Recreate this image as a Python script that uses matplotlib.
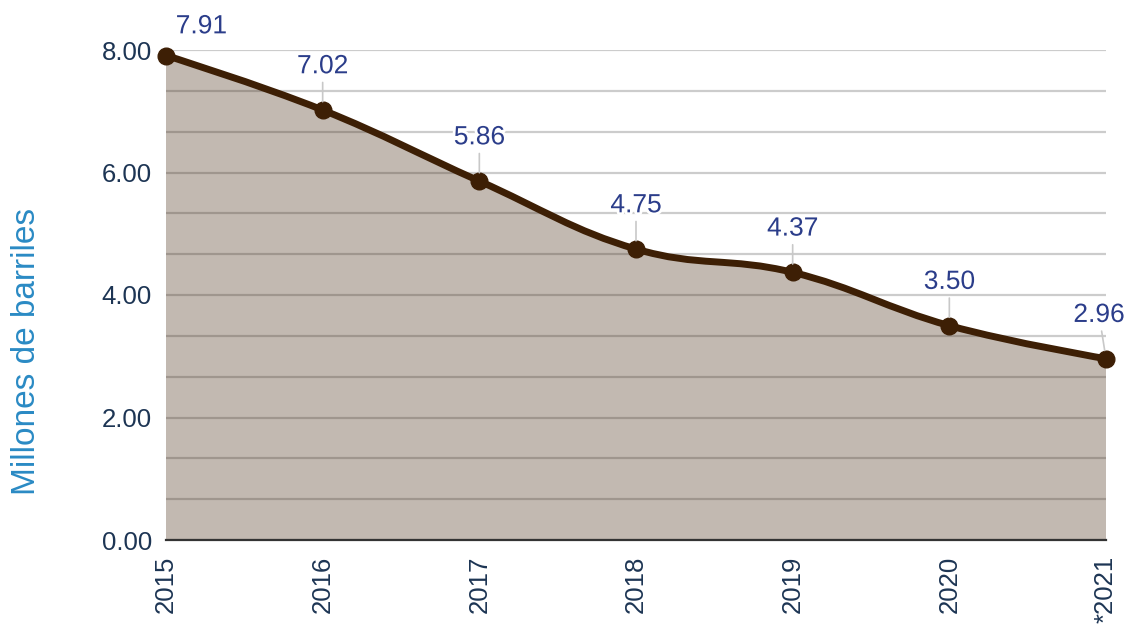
import matplotlib
matplotlib.use("Agg")
import matplotlib.pyplot as plt
import matplotlib.patheffects as pe
from matplotlib.path import Path
from matplotlib.patches import PathPatch
import numpy as np

years = ["2015", "2016", "2017", "2018", "2019", "2020", "*2021"]
values = [7.91, 7.02, 5.86, 4.75, 4.37, 3.50, 2.96]
y_ticks = [0, 2, 4, 6, 8]
y_tick_labels = ["0.00", "2.00", "4.00", "6.00", "8.00"]
y_label = "Millones de barriles"

LINE = "#3d1f05"
LABEL_C = "#2b3d8a"
TICK_C = "#1d3554"

fig = plt.figure(figsize=(11.29, 6.27), dpi=100)
ax = fig.add_axes([166/1129, 1-540/627, (1106-166)/1129, (540-50)/627])

xs = np.arange(len(values), dtype=float)
ys = np.array(values, dtype=float)


def spline_path(xs, ys):
    s = 1.5
    d = s + 1
    n = len(xs)
    lc = [None]*n
    rc = [None]*n
    for i in range(1, n-1):
        px, py = xs[i], ys[i]
        lx, ly = xs[i-1], ys[i-1]
        nx, ny = xs[i+1], ys[i+1]
        lcx = (s*px + lx)/d; lcy = (s*py + ly)/d
        rcx = (s*px + nx)/d; rcy = (s*py + ny)/d
        corr = 0
        if rcx != lcx:
            corr = ((rcy - lcy)*(rcx - px))/(rcx - lcx) + py - rcy
        lcy += corr; rcy += corr
        if lcy > ly and lcy > py:
            lcy = max(ly, py); rcy = 2*py - lcy
        elif lcy < ly and lcy < py:
            lcy = min(ly, py); rcy = 2*py - lcy
        if rcy > ny and rcy > py:
            rcy = max(ny, py); lcy = 2*py - rcy
        elif rcy < ny and rcy < py:
            rcy = min(ny, py); lcy = 2*py - rcy
        lc[i] = (lcx, lcy); rc[i] = (rcx, rcy)
    verts = [(xs[0], ys[0])]
    codes = [Path.MOVETO]
    for i in range(1, n):
        c1 = rc[i-1] if rc[i-1] is not None else (xs[i-1], ys[i-1])
        c2 = lc[i] if lc[i] is not None else (xs[i], ys[i])
        verts += [c1, c2, (xs[i], ys[i])]
        codes += [Path.CURVE4]*3
    return verts, codes


verts, codes = spline_path(xs, ys)

# fill area
fverts = verts + [(xs[-1], 0), (xs[0], 0), (xs[0], ys[0])]
fcodes = codes + [Path.LINETO, Path.LINETO, Path.CLOSEPOLY]
ax.add_patch(PathPatch(Path(fverts, fcodes), facecolor=LINE, alpha=0.31,
                       edgecolor="none", zorder=2))
# line
ax.add_patch(PathPatch(Path(verts, codes), facecolor="none", edgecolor=LINE,
                       lw=5, zorder=3, capstyle="round", joinstyle="round"))
ax.plot(xs, ys, linestyle="none", marker="o", markersize=12,
        color=LINE, zorder=4, clip_on=False)

# gridlines
for v in np.arange(0, 8.01, 2/3):
    ax.axhline(v, color="#cccccc", lw=1.6, zorder=1)

ax.set_xlim(xs[0], xs[-1])
ax.set_ylim(0, 8)
ax.set_yticks(y_ticks)
ax.set_yticklabels(y_tick_labels)
ax.set_xticks(xs)
ax.set_xticklabels(years, rotation=90, va="top", ha="center")
ax.tick_params(axis="both", length=0, labelsize=18.5, colors=TICK_C)
ax.tick_params(axis="y", pad=10)
ax.tick_params(axis="x", pad=11)
for lab in ax.get_xticklabels() + ax.get_yticklabels():
    lab.set_fontfamily("Liberation Sans")
    lab.set_color(TICK_C)
for side in ["left", "right", "top"]:
    ax.spines[side].set_visible(False)
ax.spines["bottom"].set_color("#333333")
ax.spines["bottom"].set_linewidth(1.6)
ax.spines["bottom"].set_zorder(5)

halo = [pe.withStroke(linewidth=4, foreground="white")]
n = len(values)
for i, (x, y) in enumerate(zip(xs, ys)):
    txt = f"{y:.2f}"
    if i == 0:
        ax.annotate(txt, xy=(x, y), xytext=(7, 21), textcoords="offset points",
                    ha="left", va="center", fontsize=19, color=LABEL_C,
                    family="Liberation Sans", path_effects=halo,
                    annotation_clip=False, zorder=6)
    else:
        dx = -5 if i == n - 1 else 0
        ax.annotate(txt, xy=(x, y), xytext=(dx, 31.5), textcoords="offset points",
                    ha="center", va="center", fontsize=19, color=LABEL_C,
                    family="Liberation Sans", path_effects=halo,
                    annotation_clip=False, zorder=6,
                    arrowprops=dict(arrowstyle="-", color="#c8c8c8", lw=1.2,
                                    shrinkA=1, shrinkB=6))

fig.text(27/1129, 1-351/627, y_label, rotation=90, ha="center", va="center",
         fontsize=24, color="#2a8ac4", family="Liberation Sans")

fig.savefig("out.png", dpi=100)
